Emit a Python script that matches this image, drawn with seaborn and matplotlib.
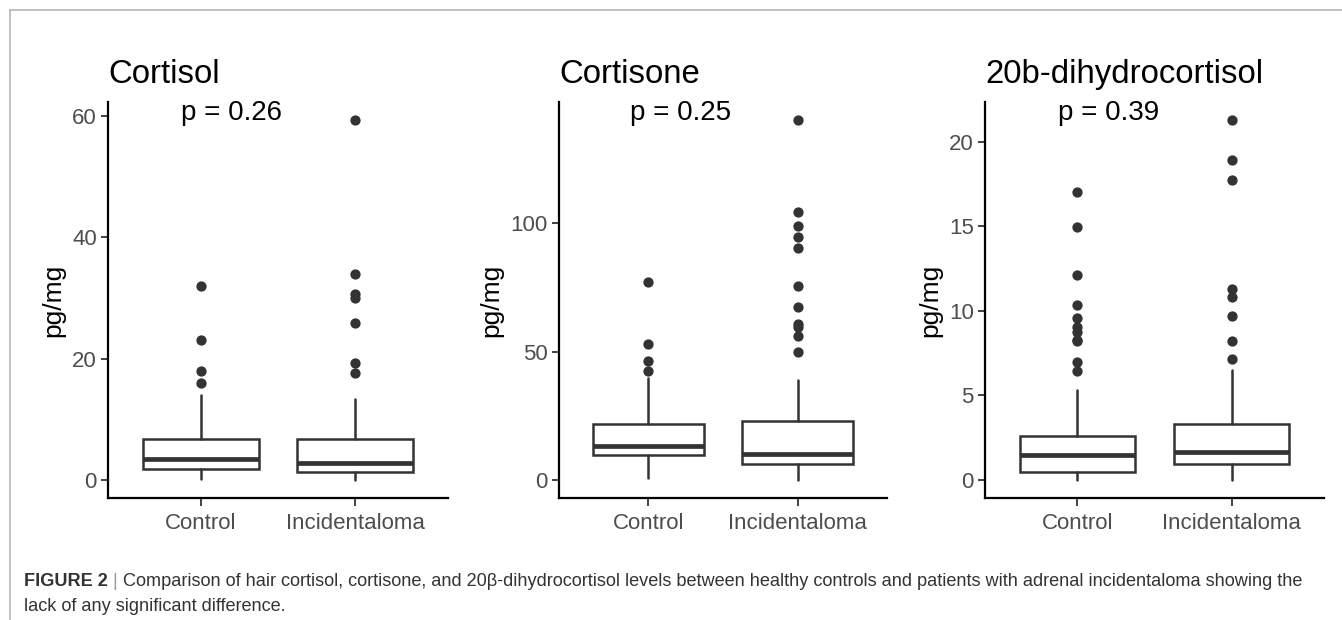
import numpy as np
import pandas as pd
import matplotlib
matplotlib.use("Agg")
import matplotlib.pyplot as plt
import seaborn as sns
from matplotlib.lines import Line2D

# ---------------- data ----------------
groups = ["Control", "Incidentaloma"]
panel_titles = ["Cortisol", "Cortisone", "20b-dihydrocortisol"]
p_labels = ["p = 0.26", "p = 0.25", "p = 0.39"]
y_label = "pg/mg"
y_ticks_cortisol = [0, 20, 40, 60]
y_ticks_cortisone = [0, 50, 100]
y_ticks_dihydro = [0, 5, 10, 15, 20]

# box statistics, one value per group [Control, Incidentaloma]
cortisol_whislo = [0.1, 0.0]
cortisol_q1 = [1.8, 1.25]
cortisol_med = [3.5, 2.8]
cortisol_q3 = [6.8, 6.75]
cortisol_whishi = [14.0, 13.4]
cortisol_out_control = [16.0, 17.9, 23.0, 32.0]
cortisol_out_incid = [17.6, 19.3, 25.8, 29.9, 30.7, 34.0, 59.3]

cortisone_whislo = [0.9, 0.0]
cortisone_q1 = [9.8, 6.3]
cortisone_med = [13.2, 10.3]
cortisone_q3 = [21.9, 23.0]
cortisone_whishi = [39.7, 39.1]
cortisone_out_control = [42.6, 46.4, 52.9, 77.2]
cortisone_out_incid = [49.7, 56.1, 59.4, 60.6, 67.2, 75.5, 90.2, 94.8, 99.1, 104.5, 140.2]

dihydro_whislo = [0.0, 0.0]
dihydro_q1 = [0.45, 0.94]
dihydro_med = [1.5, 1.63]
dihydro_q3 = [2.6, 3.33]
dihydro_whishi = [5.35, 6.53]
dihydro_out_control = [6.47, 7.0, 8.24, 8.3, 8.73, 9.08, 9.6, 10.34, 12.12, 14.94, 17.06]
dihydro_out_incid = [7.16, 8.24, 9.7, 10.85, 11.33, 17.75, 18.92, 21.3]

caption_bold = "FIGURE 2"
caption_line1 = ("Comparison of hair cortisol, cortisone, and 20\u03b2-dihydrocortisol levels between "
                 "healthy controls and patients with adrenal incidentaloma showing the")
caption_line2 = "lack of any significant difference."

panels = [
    dict(whislo=cortisol_whislo, q1=cortisol_q1, med=cortisol_med, q3=cortisol_q3,
         whishi=cortisol_whishi, out=[cortisol_out_control, cortisol_out_incid],
         ticks=y_ticks_cortisol),
    dict(whislo=cortisone_whislo, q1=cortisone_q1, med=cortisone_med, q3=cortisone_q3,
         whishi=cortisone_whishi, out=[cortisone_out_control, cortisone_out_incid],
         ticks=y_ticks_cortisone),
    dict(whislo=dihydro_whislo, q1=dihydro_q1, med=dihydro_med, q3=dihydro_q3,
         whishi=dihydro_whishi, out=[dihydro_out_control, dihydro_out_incid],
         ticks=y_ticks_dihydro),
]

# ---------------- style ----------------
sns.set_theme(style="ticks")
plt.rcParams['font.family'] = ['Liberation Sans', 'DejaVu Sans']

W, H = 1342, 620
fig = plt.figure(figsize=(W / 100, H / 100), dpi=100)

dark = "#333333"
axes_px = [(108, 448), (559, 887), (985, 1324)]
top_px, bot_px = 102, 498

for i, (pan, (x0, x1)) in enumerate(zip(panels, axes_px)):
    ax = fig.add_axes([x0 / W, 1 - bot_px / H, (x1 - x0) / W, (bot_px - top_px) / H])

    # outliers through seaborn
    df = pd.DataFrame({
        "group": [groups[0]] * len(pan["out"][0]) + [groups[1]] * len(pan["out"][1]),
        "value": list(pan["out"][0]) + list(pan["out"][1]),
    })
    sns.stripplot(data=df, x="group", y="value", order=groups, jitter=False,
                  color=dark, size=7.4, linewidth=0, ax=ax, zorder=3)

    stats = []
    for g in range(2):
        stats.append(dict(whislo=pan["whislo"][g], q1=pan["q1"][g], med=pan["med"][g],
                          q3=pan["q3"][g], whishi=pan["whishi"][g], fliers=[]))
    ax.bxp(stats, positions=[0, 1], widths=0.75, showfliers=False, showcaps=False,
           patch_artist=True, manage_ticks=False,
           boxprops=dict(facecolor="white", edgecolor=dark, linewidth=1.8),
           medianprops=dict(color=dark, linewidth=3.4, solid_capstyle="butt"),
           whiskerprops=dict(color=dark, linewidth=1.8))

    allv = (list(pan["whislo"]) + list(pan["whishi"]) + list(pan["out"][0]) + list(pan["out"][1]))
    lo, hi = min(allv), max(allv)
    pad = 0.05 * (hi - lo)
    ax.set_ylim(lo - pad, hi + pad)
    ax.set_xlim(-0.6, 1.6)
    ax.set_yticks(pan["ticks"])
    ax.set_yticklabels([str(t) for t in pan["ticks"]])
    ax.set_xticks([0, 1])
    ax.set_xticklabels(groups)
    ax.set_xlabel("")
    ax.set_ylabel(y_label, fontsize=19, color="black", labelpad=5)

    for s in ["top", "right"]:
        ax.spines[s].set_visible(False)
    for s in ["left", "bottom"]:
        ax.spines[s].set_color("black")
        ax.spines[s].set_linewidth(1.6)
    ax.tick_params(axis="both", colors=dark, labelcolor="#4D4D4D", labelsize=16,
                   width=1.3, direction="out")
    ax.tick_params(axis="y", length=5, pad=3)
    ax.tick_params(axis="x", length=6, pad=5)
    ax.set_facecolor("white")

    ax.set_title(panel_titles[i], loc="left", fontsize=23.7, pad=14, color="black")
    ax.text(-0.125, hi, p_labels[i], ha="left", va="baseline", fontsize=20, color="black")

# frame lines
fig.add_artist(Line2D([10 / W, 1.0], [1 - 10 / H, 1 - 10 / H], color="#b5b5b5", linewidth=1.2))
fig.add_artist(Line2D([10 / W, 10 / W], [0.0, 1 - 10 / H], color="#b5b5b5", linewidth=1.2))

# caption
cap_size = 13.1
cap_color = "#333333"
y1 = 1 - 586 / H
y2 = 1 - 611 / H
t1 = fig.text(24 / W, y1, caption_bold, fontsize=cap_size, fontweight="bold", color=cap_color,
              ha="left", va="baseline")
fig.canvas.draw()
r = fig.canvas.get_renderer()
bb = t1.get_window_extent(renderer=r)
t2 = fig.text(bb.x1 / W, y1, " | ", fontsize=cap_size, color="#9a9a9a", ha="left", va="baseline")
bb2 = t2.get_window_extent(renderer=r)
fig.text(bb2.x1 / W, y1, caption_line1, fontsize=cap_size, color=cap_color, ha="left", va="baseline")
fig.text(24 / W, y2, caption_line2, fontsize=cap_size, color=cap_color, ha="left", va="baseline")

fig.savefig("out.png", dpi=100, facecolor="white")
